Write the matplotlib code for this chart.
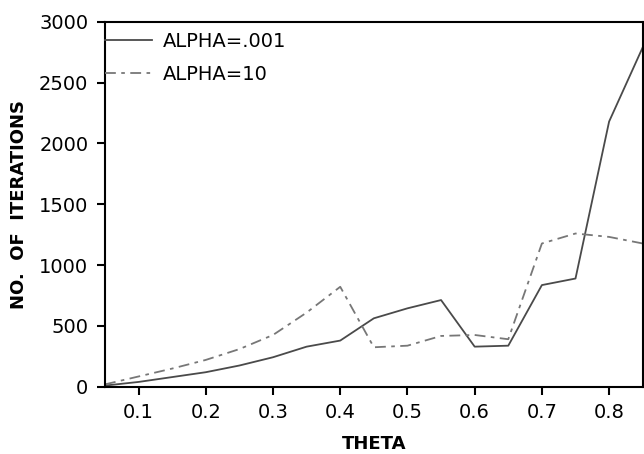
import numpy as np
import matplotlib
matplotlib.use("Agg")
import matplotlib.pyplot as plt

# data
theta = [0.05, 0.10, 0.15, 0.20, 0.25, 0.30, 0.35, 0.40, 0.45, 0.50,
         0.55, 0.60, 0.65, 0.70, 0.75, 0.80, 0.85]
iter_alpha_001 = [10, 40, 80, 120, 175, 243, 330, 380, 563, 645,
                  713, 330, 338, 836, 890, 2180, 2790]
iter_alpha_10 = [20, 85, 150, 221, 310, 426, 610, 822, 325, 338,
                 418, 426, 391, 1178, 1260, 1232, 1178]

xticks = [0.1, 0.2, 0.3, 0.4, 0.5, 0.6, 0.7, 0.8]
yticks = [0, 500, 1000, 1500, 2000, 2500, 3000]

plt.rcParams['font.family'] = ['DejaVu Sans']

fig = plt.figure(figsize=(6.44, 4.54), dpi=100)
ax = fig.add_axes([0.163, 0.148, 0.835, 0.804])

ax.plot(theta, iter_alpha_001, color="#4a4a4a", linewidth=1.3,
        label="ALPHA=.001")
ax.plot(theta, iter_alpha_10, color="#777777", linewidth=1.3,
        linestyle=(0, (6, 3, 2, 3)), label="ALPHA=10")

ax.set_xlim(0.05, 0.85)
ax.set_ylim(0, 3000)
ax.set_xticks(xticks)
ax.set_yticks(yticks)
ax.set_xticklabels([f"{t:.1f}" for t in xticks])
ax.tick_params(direction="out", length=6, width=1.5, labelsize=14, pad=6)
for s in ax.spines.values():
    s.set_linewidth(1.5)

ax.set_xlabel("THETA", fontsize=13, fontweight="bold", labelpad=9)
ax.set_ylabel("NO.  OF  ITERATIONS", fontsize=13, fontweight="bold", labelpad=8)

ax.legend(loc="upper left", frameon=False, fontsize=14, handlelength=2.4,
          borderaxespad=0, borderpad=0, handletextpad=0.6, labelspacing=0.7,
          bbox_to_anchor=(0.0, 0.972))

fig.savefig("out.png", dpi=100)
